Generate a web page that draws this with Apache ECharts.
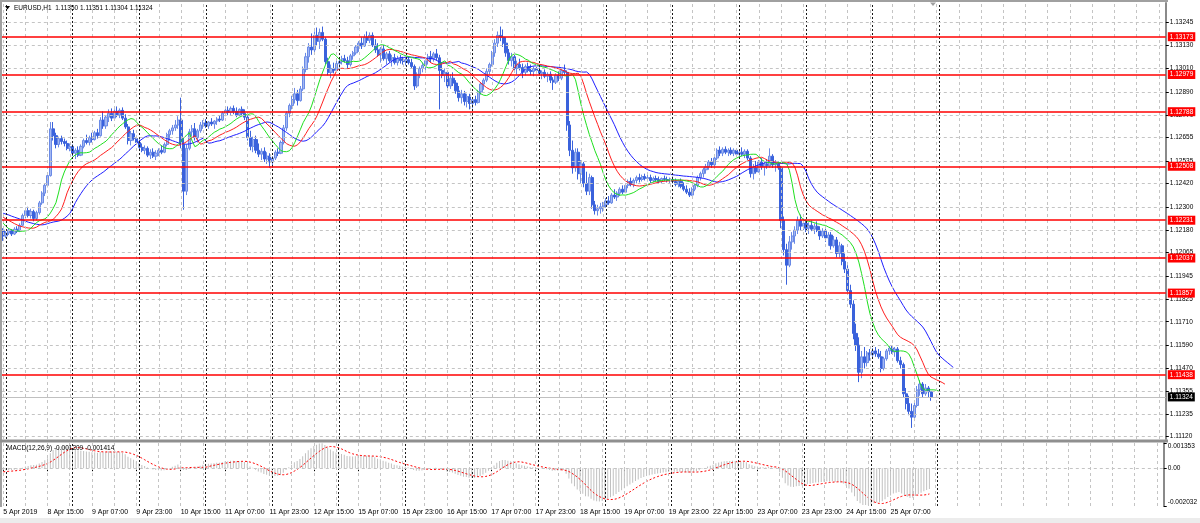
<!DOCTYPE html>
<html><head><meta charset="utf-8">
<script src="https://cdn.jsdelivr.net/npm/echarts@6/dist/echarts.min.js"></script>
<style>html,body{margin:0;padding:0;background:#fff}#c{width:1200px;height:523px}</style>
</head><body><div id="c"></div>
<script>
// Prices stored as offsets from 1.10000 in units of 0.00001 ; each bar = [open, high, low, close]
const BASE = 1.1, PT = 1e-5;
const apr05 = [[2180,2190,2125,2150]];
const apr08 = [[2150,2175,2140,2165],[2165,2190,2155,2180],[2180,2185,2150,2160],[2160,2195,2155,2185],[2185,2200,2165,2175],[2175,2215,2170,2205],[2205,2265,2200,2255],[2255,2295,2240,2280],[2280,2300,2245,2255],[2255,2290,2240,2275],[2275,2285,2225,2240],[2240,2280,2230,2270],[2270,2330,2260,2320],[2320,2380,2310,2370],[2370,2420,2355,2410],[2410,2470,2400,2460],[2460,2735,2455,2700],[2700,2735,2640,2665],[2665,2680,2600,2620],[2620,2660,2605,2650],[2650,2665,2620,2635],[2635,2650,2610,2625],[2625,2640,2590,2600],[2600,2625,2585,2610]];
const apr09 = [[2610,2620,2560,2575],[2575,2600,2545,2590],[2590,2610,2555,2565],[2565,2620,2560,2610],[2610,2650,2600,2640],[2640,2670,2620,2630],[2630,2665,2615,2655],[2655,2680,2630,2645],[2645,2690,2640,2680],[2680,2700,2650,2665],[2665,2760,2660,2745],[2745,2790,2700,2715],[2715,2770,2700,2760],[2760,2800,2735,2780],[2780,2805,2740,2755],[2755,2800,2745,2790],[2790,2815,2760,2770],[2770,2805,2755,2795],[2795,2810,2745,2755],[2755,2775,2700,2710],[2710,2725,2620,2640],[2640,2690,2615,2675],[2675,2695,2640,2650],[2650,2665,2620,2630]];
const apr10 = [[2630,2645,2595,2605],[2605,2625,2580,2590],[2590,2615,2570,2600],[2600,2610,2555,2565],[2565,2595,2545,2580],[2580,2600,2550,2560],[2560,2590,2540,2575],[2575,2600,2560,2590],[2590,2615,2570,2580],[2580,2630,2575,2620],[2620,2680,2610,2670],[2670,2700,2640,2690],[2690,2720,2670,2705],[2705,2745,2690,2720],[2720,2765,2700,2745],[2745,2860,2600,2620],[2620,2655,2285,2380],[2380,2620,2360,2600],[2600,2700,2590,2685],[2685,2720,2660,2700],[2700,2730,2640,2655],[2655,2700,2630,2690],[2690,2735,2680,2720],[2720,2745,2700,2730]];
const apr11 = [[2730,2750,2705,2715],[2715,2740,2700,2735],[2735,2755,2715,2725],[2725,2745,2700,2740],[2740,2760,2720,2750],[2750,2770,2735,2745],[2745,2790,2740,2780],[2780,2810,2765,2795],[2795,2815,2770,2785],[2785,2815,2770,2805],[2805,2820,2775,2790],[2790,2810,2760,2770],[2770,2805,2765,2800],[2800,2815,2770,2780],[2780,2800,2745,2760],[2760,2770,2640,2655],[2655,2690,2590,2610],[2610,2660,2580,2645],[2645,2665,2575,2590],[2590,2625,2555,2570],[2570,2600,2540,2585],[2585,2605,2530,2545],[2545,2580,2520,2560],[2560,2575,2500,2530]];
const apr12 = [[2530,2560,2500,2550],[2550,2590,2540,2580],[2580,2600,2560,2575],[2575,2640,2570,2630],[2630,2720,2620,2705],[2705,2790,2690,2780],[2780,2830,2760,2820],[2820,2870,2800,2850],[2850,2910,2830,2880],[2880,2900,2820,2845],[2845,2920,2840,2905],[2905,3020,2895,3005],[3005,3090,2990,3070],[3070,3140,3040,3120],[3120,3190,3080,3105],[3105,3200,3090,3180],[3180,3220,3130,3150],[3150,3215,3110,3195],[3195,3225,3150,3160],[3160,3170,3030,3045],[3045,3065,2975,2990],[2990,3030,2960,3010],[3010,3040,2985,3000],[3000,3050,2990,3035]];
const apr15 = [[3035,3060,3015,3045],[3045,3075,3030,3060],[3060,3080,3040,3050],[3050,3070,3010,3030],[3030,3085,3020,3075],[3075,3100,3055,3090],[3090,3130,3080,3120],[3120,3150,3095,3140],[3140,3170,3110,3125],[3125,3185,3120,3170],[3170,3200,3140,3155],[3155,3195,3140,3180],[3180,3195,3120,3130],[3130,3160,3090,3105],[3105,3140,3070,3080],[3080,3120,3040,3110],[3110,3130,3050,3060],[3060,3095,3030,3085],[3085,3100,3040,3050],[3050,3080,3020,3065],[3065,3085,3030,3040],[3040,3075,3025,3060],[3060,3080,3035,3050],[3050,3070,3030,3045]];
const apr16 = [[3045,3065,3025,3055],[3055,3070,3030,3040],[3040,3060,3010,3020],[3020,3030,2900,2920],[2920,2990,2910,2980],[2980,3020,2960,3010],[3010,3040,2990,3025],[3025,3060,3000,3050],[3050,3085,3030,3070],[3070,3100,3040,3060],[3060,3095,3045,3085],[3085,3110,3050,3065],[3065,3080,2800,3000],[3000,3040,2960,2975],[2975,3010,2940,2990],[2990,3000,2900,2920],[2920,2980,2905,2960],[2960,2990,2920,2935],[2935,2950,2880,2895],[2895,2920,2840,2860],[2860,2900,2830,2880],[2880,2895,2820,2840],[2840,2880,2810,2865],[2865,2880,2800,2830]];
const apr17 = [[2830,2860,2805,2850],[2850,2870,2820,2835],[2835,2900,2830,2890],[2890,2940,2875,2930],[2930,2960,2900,2950],[2950,3010,2940,2995],[2995,3040,2980,3030],[3030,3100,3020,3090],[3090,3160,3070,3140],[3140,3200,3120,3180],[3180,3225,3150,3170],[3170,3210,3120,3140],[3140,3170,3070,3090],[3090,3110,3030,3050],[3050,3090,3020,3070],[3070,3085,2990,3010],[3010,3050,2980,3030],[3030,3060,3000,3015],[3015,3035,2960,2990],[2990,3030,2975,3020],[3020,3040,2990,3000],[3000,3030,2975,2995],[2995,3020,2970,3010],[3010,3025,2985,3000]];
const apr18 = [[3000,3015,2975,2985],[2985,3000,2955,2990],[2990,3005,2960,2970],[2970,2990,2940,2980],[2980,2995,2935,2950],[2950,2965,2900,2940],[2940,2985,2930,2975],[2975,2995,2945,2960],[2960,3010,2950,3000],[3000,3030,2975,2990],[2990,3000,2690,2720],[2720,2740,2560,2590],[2590,2640,2470,2500],[2500,2600,2480,2580],[2580,2600,2440,2470],[2470,2540,2420,2520],[2520,2530,2400,2420],[2420,2480,2360,2380],[2380,2470,2360,2450],[2450,2460,2290,2310],[2310,2330,2260,2280],[2280,2310,2255,2290],[2290,2320,2265,2300],[2300,2325,2275,2310]];
const apr19 = [[2310,2345,2295,2330],[2330,2355,2310,2320],[2320,2370,2315,2360],[2360,2390,2340,2350],[2350,2380,2330,2370],[2370,2400,2355,2390],[2390,2410,2365,2375],[2375,2420,2370,2410],[2410,2440,2395,2430],[2430,2450,2405,2415],[2415,2445,2400,2435],[2435,2460,2420,2450],[2450,2470,2425,2440],[2440,2465,2430,2455],[2455,2470,2435,2445],[2445,2465,2430,2450],[2450,2465,2420,2435],[2435,2455,2425,2445],[2445,2460,2430,2440],[2440,2455,2420,2430],[2430,2450,2420,2445],[2445,2460,2430,2440],[2440,2455,2425,2435],[2435,2450,2420,2440]];
const apr22 = [[2440,2455,2420,2430],[2430,2445,2405,2415],[2415,2440,2400,2430],[2430,2445,2395,2405],[2405,2425,2380,2390],[2390,2410,2365,2375],[2375,2395,2350,2360],[2360,2400,2355,2390],[2390,2420,2380,2410],[2410,2460,2400,2450],[2450,2480,2435,2470],[2470,2500,2450,2490],[2490,2520,2470,2505],[2505,2540,2490,2530],[2530,2550,2500,2515],[2515,2560,2505,2550],[2550,2600,2540,2590],[2590,2610,2560,2575],[2575,2605,2560,2595],[2595,2610,2570,2580],[2580,2600,2560,2590],[2590,2605,2565,2575],[2575,2600,2560,2590],[2590,2600,2555,2570]];
const apr23 = [[2570,2590,2550,2580],[2580,2605,2560,2570],[2570,2595,2550,2585],[2585,2595,2540,2550],[2550,2560,2450,2470],[2470,2520,2440,2500],[2500,2535,2470,2480],[2480,2540,2475,2530],[2530,2550,2490,2505],[2505,2530,2460,2520],[2520,2545,2495,2510],[2510,2600,2500,2560],[2560,2570,2500,2515],[2515,2540,2480,2520],[2520,2535,2490,2500],[2500,2510,2190,2230],[2230,2250,2050,2080],[2080,2110,1900,2000],[2000,2150,1990,2120],[2120,2170,2080,2150],[2150,2200,2110,2180],[2180,2250,2160,2230],[2230,2260,2180,2200],[2200,2240,2180,2215]];
const apr24 = [[2215,2235,2170,2190],[2190,2220,2160,2205],[2205,2230,2175,2185],[2185,2215,2160,2200],[2200,2225,2170,2180],[2180,2200,2130,2150],[2150,2190,2140,2175],[2175,2195,2120,2140],[2140,2170,2100,2155],[2155,2170,2080,2100],[2100,2150,2090,2130],[2130,2145,2040,2060],[2060,2120,2040,2100],[2100,2110,2000,2020],[2020,2060,1960,1980],[1980,2000,1850,1870],[1870,1900,1780,1800],[1800,1820,1620,1650],[1650,1700,1560,1590],[1590,1630,1400,1450],[1450,1560,1420,1530],[1530,1580,1470,1500],[1500,1560,1480,1550],[1550,1570,1510,1540]];
const apr25 = [[1540,1575,1525,1560],[1560,1580,1530,1545],[1545,1570,1520,1530],[1530,1560,1450,1470],[1470,1530,1460,1520],[1520,1570,1510,1560],[1560,1585,1540,1575],[1575,1590,1545,1555],[1555,1580,1530,1570],[1570,1580,1500,1510],[1510,1530,1470,1490],[1490,1500,1320,1340],[1340,1370,1260,1290],[1290,1330,1230,1250],[1250,1290,1165,1220],[1220,1300,1200,1280],[1280,1380,1270,1360],[1360,1410,1330,1390],[1390,1400,1320,1340],[1340,1390,1330,1370],[1370,1380,1320,1350],[1350,1351,1304,1324]];

// Alligator values at the left edge (before the first visible bar's own contribution)
const jawStart = [2267,2262,2258,2252,2247,2242,2237,2232];
const teethStart = [2246,2238,2230,2222,2214];
const lipsStart = [2216,2200,2188];
// MACD state before the first visible bar: EMA12, EMA26 and 8 earlier MACD values
const macdEmaStart = [2178, 2188];
const macdPrior = [-22,-22,-21,-21,-20,-20,-19,-19];

const priceTicks = ['1.13245','1.13130','1.13010','1.12890','1.12770','1.12655','1.12535','1.12420','1.12300','1.12180','1.12065','1.11945','1.11825','1.11710','1.11590','1.11470','1.11355','1.11235','1.11120'];
const levelLines = [1.13173,1.12979,1.12788,1.12508,1.12231,1.12037,1.11857,1.11438];
const lastPrice = 1.11324;
const macdTicks = [-0.002032, 0, 0.001353];
const firstLabel = '5 Apr 2019';
const dayNames = ['8 Apr','9 Apr','10 Apr','11 Apr','12 Apr','15 Apr','16 Apr','17 Apr','18 Apr','19 Apr','22 Apr','23 Apr','24 Apr','25 Apr','26 Apr','29 Apr','30 Apr','1 May'];

const N_SLOTS = 419;
const cats = ['5 Apr 23:00'];
dayNames.forEach(d => { for (let h = 0; h < 24; h++) cats.push(d + ' ' + String(h).padStart(2,'0') + ':00'); });
cats.length = N_SLOTS;

const bars = [].concat(apr05, apr08, apr09, apr10, apr11, apr12, apr15, apr16, apr17, apr18, apr19, apr22, apr23, apr24, apr25);
const P = v => +(BASE + v * PT).toFixed(6);
const candleData = bars.map(b => [P(b[0]), P(b[3]), P(b[2]), P(b[1])]);

// Alligator (SMMA of median price, shifted)
const med = bars.map(b => (b[1] + b[2]) / 2);
function alligator(n, head) {
  const out = new Array(N_SLOTS).fill(null);
  head.forEach((v, k) => out[k] = P(v));
  let s = head[head.length - 1];
  med.forEach((m, i) => { s = (s * (n - 1) + m) / n; out[i + head.length] = P(s); });
  return out;
}
const jaw = alligator(13, jawStart), teeth = alligator(8, teethStart), lips = alligator(5, lipsStart);

// MACD(12,26,9)
let e12 = macdEmaStart[0], e26 = macdEmaStart[1];
const hist = macdPrior.slice();
const macdMain = [], macdSig = [];
bars.forEach(b => {
  e12 += (2 / 13) * (b[3] - e12); e26 += (2 / 27) * (b[3] - e26);
  const m = e12 - e26; hist.push(m);
  const last9 = hist.slice(-9);
  macdMain.push(+(m * PT).toFixed(7));
  macdSig.push(+(last9.reduce((a, c) => a + c, 0) / 9 * PT).toFixed(7));
});

const labelEvery = (idx) => idx % 16 === 0 && idx < bars.length;
const gridIdx = []; for (let i = 0; i < N_SLOTS; i += 8) gridIdx.push(i);
const sepIdx = []; for (let i = 1; i <= 337; i += 24) sepIdx.push(i);

const FONT = 'Liberation Sans';
const dashGray = {color:'#c4c4c4', type:[3,3], width:1};
const dotBlack = {color:'#1a1a1a', type:[2,2], width:1};
const vLines = gridIdx.map(i => ({xAxis: cats[i], lineStyle: dashGray}))
  .concat(sepIdx.map(i => ({xAxis: cats[i], lineStyle: dotBlack})));

const mainMarks = vLines.concat(priceTicks.map(t => ({yAxis: +t, lineStyle: dashGray})));
const redLine = () => ({color:'#ff0000', width:1.5, type:'solid', opacity:1});
const levelLabel = (txt, bg) => ({show:true, position:'end', distance:2, formatter: txt, color:'#ffffff', backgroundColor:bg, fontSize:6.5, fontFamily:FONT, padding:[1,2,1,2]});
const levelMarks = levelLines.map(v => ({yAxis: v, lineStyle: redLine(), itemStyle:{color:'#ff0000'}, label: levelLabel(v.toFixed(5), '#ff0000')}));
const lastMark = [{yAxis: lastPrice, lineStyle:{color:'#c0c0c0', width:1, type:'solid'}, itemStyle:{color:'#c0c0c0'}, label: levelLabel(lastPrice.toFixed(5), '#000000')}];
const macdMarks = vLines.concat([{yAxis: 0, lineStyle: dashGray}]);

const empty = new Array(N_SLOTS).fill(null);
const chart = echarts.init(document.getElementById('c'), null, {width:1200, height:523});
chart.setOption({
  animation:false,
  backgroundColor:'#ffffff',
  textStyle:{fontFamily:FONT},
  grid:[{left:1.8, top:3, width:1164, height:436},{left:1.8, top:443, width:1164, height:63}],
  xAxis:[
    {type:'category', gridIndex:0, data:cats, boundaryGap:true, axisLine:{show:false}, axisTick:{show:false}, axisLabel:{show:false}, splitLine:{show:false}},
    {type:'category', gridIndex:1, data:cats, boundaryGap:true, axisLine:{show:false},
     axisTick:{show:true, alignWithLabel:true, interval:labelEvery, length:3, lineStyle:{color:'#000'}},
     axisLabel:{interval:labelEvery, align:'left', fontSize:7, color:'#000', margin:3, fontFamily:FONT, formatter:(v, idx) => idx === 0 ? firstLabel : v},
     splitLine:{show:false}}
  ],
  yAxis:[
    {type:'value', gridIndex:0, position:'right', min:1.11108, max:1.13346,
     axisLine:{show:true, onZero:false, lineStyle:{color:'#8a8a8a', width:2}},
     axisTick:{show:true, customValues:priceTicks.map(Number), length:3, lineStyle:{color:'#000'}},
     axisLabel:{customValues:priceTicks.map(Number), formatter:v => v.toFixed(5), fontSize:6.5, color:'#000', margin:4, fontFamily:FONT},
     splitLine:{show:false}},
    {type:'value', gridIndex:1, position:'right', min:-0.002032, max:0.001353,
     axisLine:{show:true, onZero:false, lineStyle:{color:'#8a8a8a', width:2}},
     axisTick:{show:true, customValues:macdTicks, length:3, lineStyle:{color:'#000'}},
     axisLabel:{customValues:macdTicks, formatter:v => v === 0 ? '0.00' : v.toFixed(6), fontSize:6.5, color:'#000', margin:4, fontFamily:FONT,
       verticalAlignMinLabel:'bottom', verticalAlignMaxLabel:'top'},
     splitLine:{show:false}}
  ],
  series:[
    {type:'line', xAxisIndex:0, yAxisIndex:0, data:empty, z:1, silent:true,
     markLine:{silent:true, precision:6, symbol:['none','none'], animation:false, label:{show:false}, data:mainMarks}},
    {type:'line', xAxisIndex:1, yAxisIndex:1, data:empty, z:1, silent:true,
     markLine:{silent:true, precision:7, symbol:['none','none'], animation:false, label:{show:false}, data:macdMarks}},
    {type:'line', xAxisIndex:0, yAxisIndex:0, data:empty, z:2, silent:true, color:'#c0c0c0',
     markLine:{silent:true, precision:6, symbol:['none','none'], animation:false, lineStyle:{color:'#c0c0c0', type:'solid', width:1}, data:lastMark}},
    {type:'line', xAxisIndex:0, yAxisIndex:0, data:empty, z:2, silent:true, color:'#ff0000',
     markLine:{silent:true, precision:6, symbol:['none','none'], animation:false, lineStyle:{color:'#ff0000', type:'solid', width:1.5}, emphasis:{disabled:true}, data:levelMarks}},
    {type:'candlestick', xAxisIndex:0, yAxisIndex:0, data:candleData, barWidth:2.6, z:3,
     itemStyle:{color:'#a4b8f2', color0:'#3a62dc', borderColor:'#6a8ae6', borderColor0:'#3a62dc', borderWidth:1}},
    {type:'line', xAxisIndex:0, yAxisIndex:0, data:jaw, symbol:'none', z:4, lineStyle:{color:'#1f1fff', width:1}},
    {type:'line', xAxisIndex:0, yAxisIndex:0, data:teeth, symbol:'none', z:4, lineStyle:{color:'#ff1f1f', width:1}},
    {type:'line', xAxisIndex:0, yAxisIndex:0, data:lips, symbol:'none', z:4, lineStyle:{color:'#1fe01f', width:1}},
    {type:'bar', xAxisIndex:1, yAxisIndex:1, data:macdMain, barWidth:1, z:3, itemStyle:{color:'#c0c0c0'}},
    {type:'line', xAxisIndex:1, yAxisIndex:1, data:macdSig, symbol:'none', z:4, lineStyle:{color:'#ff0000', width:1, type:[2,2]}}
  ],
  graphic:[
    {type:'rect', z:100, shape:{x:0, y:0, width:1168, height:2}, style:{fill:'#a0a0a0'}},
    {type:'rect', z:100, shape:{x:0, y:0, width:2, height:507}, style:{fill:'#a0a0a0'}},
    {type:'rect', z:100, shape:{x:0, y:439.5, width:1168, height:3}, style:{fill:'#8f8f8f'}},
    {type:'rect', z:100, shape:{x:0, y:518, width:1200, height:5}, style:{fill:'#ececec'}},
    {type:'polygon', z:100, shape:{points:[[5,6],[10,6],[7.5,9.5]]}, style:{fill:'#000'}},
    {type:'polygon', z:100, shape:{points:[[930,2.5],[936,2.5],[933,6]]}, style:{fill:'#a0a0a0'}},
    {type:'text', z:100, x:14, y:8.3, style:{text:'EURUSD,H1  1.11350 1.11351 1.11304 1.11324', fontSize:6.5, fontFamily:FONT, fill:'#000', verticalAlign:'middle'}},
    {type:'text', z:100, x:7, y:448.3, style:{text:'MACD(12,26,9) -0.001209 -0.001414', fontSize:6.5, fontFamily:FONT, fill:'#000', verticalAlign:'middle'}}
  ]
});
</script></body></html>
